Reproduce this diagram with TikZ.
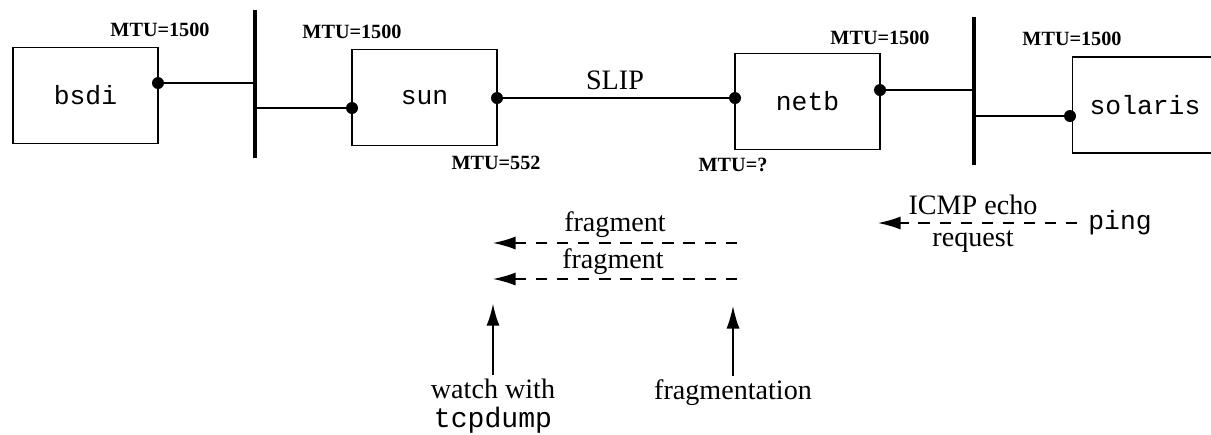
\documentclass[tikz,border=0pt]{standalone}
\usepackage{fontspec}
\setmainfont{Liberation Serif}
\setmonofont{Liberation Mono}
\usetikzlibrary{arrows.meta}

\begin{document}
\begin{tikzpicture}[x=0.02cm, y=-0.02cm]
    % Styles
    \tikzstyle{host} = [rectangle, draw, line width=0.7pt, inner sep=0pt,
        minimum width=2.9cm, minimum height=1.92cm, font=\fontsize{15}{18}\selectfont\ttfamily]
    \tikzstyle{mtu} = [inner sep=1pt, font=\fontsize{11.5}{13}\selectfont\bfseries]
    \tikzstyle{txt} = [inner sep=2pt, align=center, font=\fontsize{16}{16.5}\selectfont]
    \tikzstyle{bus} = [line width=2.4pt]
    \tikzstyle{wire} = [line width=0.9pt]
    \tikzstyle{port} = [circle, fill, inner sep=0pt, minimum size=0.24cm]
    \tikzstyle{msg} = [line width=0.8pt, dash pattern=on 6.5pt off 5.5pt,
        -{Latex[length=0.45cm,width=0.26cm]}]
    \tikzstyle{pointer} = [-{Latex[length=0.45cm,width=0.26cm]}]

    \useasboundingbox (0,0) rectangle (1211,434);

    % Hosts
    \node [host] (bsdi) at (85.5,95.5) {bsdi};
    \node [host] (sun) at (424.5,97.5) {sun};
    \node [host] (netb) at (807.5,101.5) {netb};
    \node [host] (solaris) at (1145,105) {solaris};

    % Ethernets
    \coordinate (lanAn) at (255,10);
    \coordinate (lanAs) at (255,158);
    \coordinate (lanBn) at (974,17);
    \coordinate (lanBs) at (974,165);
    \draw [bus] (lanAn) -- (lanAs);
    \draw [bus] (lanBn) -- (lanBs);

    % Interfaces
    \node [port] (bsdie) at (158,83) {};
    \node [port] (sunw) at (352,108) {};
    \node [port] (sune) at (497,98) {};
    \node [port] (netbw) at (735,98) {};
    \node [port] (netbe) at (880,90) {};
    \node [port] (solarisw) at (1070,116) {};

    % Links
    \draw [wire] (bsdie) -- (bsdie -| lanAn);
    \draw [wire] (sunw) -- (sunw -| lanAn);
    \draw [wire] (sune) -- (netbw);
    \draw [wire] (netbe) -- (netbe -| lanBn);
    \draw [wire] (solarisw) -- (solarisw -| lanBn);
    \node [txt] (slip) at (615,80) {SLIP};

    % MTUs
    \node [mtu] (mtubsdi) at (160,30) {MTU=1500};
    \node [mtu] (mtusunw) at (352,32) {MTU=1500};
    \node [mtu] (mtusune) at (496,163) {MTU=552};
    \node [mtu] (mtunetbw) at (733,165) {MTU=?};
    \node [mtu] (mtunetbe) at (880,38) {MTU=1500};
    \node [mtu] (mtusolaris) at (1072,39) {MTU=1500};

    % ICMP echo request
    \node [txt, inner sep=6pt, font=\fontsize{15}{18}\selectfont\ttfamily] (ping) at (1120,223) {ping};
    \coordinate (pingtip) at (878,223);
    \draw [msg] (ping.west) -- (pingtip);
    \node [txt] (icmp) at (973,205) {ICMP echo};
    \node [txt] (request) at (973,242) {request};

    % Fragments
    \coordinate (fragAs) at (737,243);
    \coordinate (fragAe) at (493,243);
    \coordinate (fragBs) at (737,279);
    \coordinate (fragBe) at (493,279);
    \draw [msg] (fragAs) -- (fragAe);
    \draw [msg] (fragBs) -- (fragBe);
    \node [txt] (fragA) at (615,225) {fragment};
    \node [txt] (fragB) at (613,262) {fragment};

    % Notes
    \node [txt] (watch) at (493,406) {watch with\\\texttt{tcpdump}};
    \node [txt] (fragm) at (733,393) {fragmentation};
    \coordinate (watchtip) at (493,303);
    \coordinate (fragmtip) at (733,306);
    \draw [pointer, line width=1.6pt] (watch.north) -- (watchtip);
    \draw [pointer, line width=0.8pt] (fragm.north) -- (fragmtip);
\end{tikzpicture}
\end{document}
